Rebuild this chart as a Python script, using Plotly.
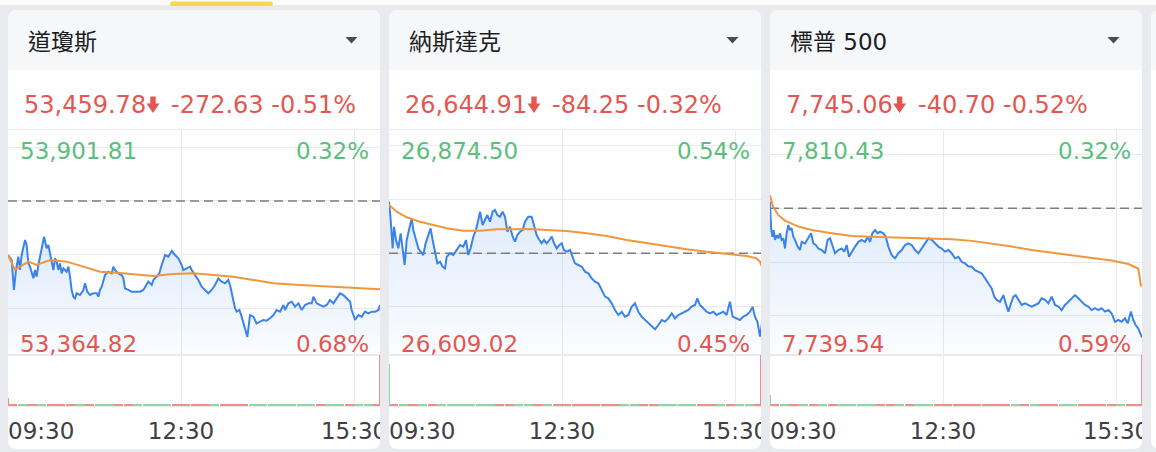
import numpy as np
import plotly.graph_objects as go

W, H = 1156, 452

# ---------------- data ----------------
names = ["道瓊斯", "納斯達克", "標普 500"]
last_price = [53459.78, 26644.91, 7745.06]
change = [-272.63, -84.25, -40.70]
change_pct = [-0.51, -0.32, -0.52]
range_high = [53901.81, 26874.50, 7810.43]
range_low = [53364.82, 26609.02, 7739.54]
high_pct = [0.32, 0.54, 0.32]
low_pct = [0.68, 0.45, 0.59]
time_ticks = [0, 180, 360]
time_labels = ["09:30", "12:30", "15:30"]

# minutes after 09:30 , index value
dji_line = [
    (0, 53603.5), (3.8, 53591.6), (6.2, 53520.0), (8.3, 53567.7), (10.7, 53599.5), (12.5, 53567.7),
    (14.2, 53603.5), (17.7, 53639.3), (19.4, 53627.4), (21.2, 53583.6), (22.9, 53575.7), (24.6, 53559.7),
    (26.4, 53547.8), (28.1, 53567.7), (29.8, 53551.8), (31.6, 53579.6), (33.3, 53599.5), (35.0, 53623.4),
    (37.5, 53647.2), (40.2, 53619.4), (42.0, 53627.4), (43.7, 53607.5), (45.4, 53583.6), (47.2, 53567.7),
    (48.9, 53595.5), (50.6, 53587.6), (52.4, 53567.7), (54.1, 53583.6), (55.8, 53559.7), (57.6, 53571.7),
    (61.0, 53563.7), (62.8, 53575.7), (64.5, 53551.8), (66.2, 53520.0), (68.0, 53504.1), (69.7, 53500.1),
    (71.4, 53512.0), (74.9, 53508.0), (78.4, 53520.0), (80.1, 53535.9), (82.5, 53516.0), (85.3, 53508.0),
    (88.8, 53512.0), (92.3, 53512.0), (94.0, 53504.1), (95.7, 53520.0), (97.5, 53527.9), (99.2, 53543.9),
    (100.9, 53555.8), (104.4, 53563.7), (107.9, 53559.7), (109.6, 53575.7), (111.3, 53567.7), (114.8, 53559.7),
    (118.3, 53555.8), (120.0, 53547.8), (121.7, 53524.0), (125.2, 53520.0), (128.7, 53516.0), (132.1, 53516.0),
    (137.3, 53516.0), (140.8, 53520.0), (144.3, 53531.9), (146.0, 53539.9), (149.5, 53531.9), (151.2, 53543.9),
    (154.7, 53551.8), (157.4, 53559.7), (159.9, 53579.6), (163.4, 53603.5), (166.8, 53599.5), (170.3, 53613.0),
    (173.8, 53603.5), (177.2, 53595.5), (180.7, 53579.6), (182.4, 53567.7), (185.9, 53571.7), (189.4, 53575.7),
    (191.1, 53567.7), (194.6, 53555.8), (198.0, 53543.9), (201.5, 53527.9), (205.0, 53520.0), (208.4, 53512.0),
    (211.9, 53520.0), (215.4, 53531.9), (218.8, 53547.8), (222.3, 53539.9), (225.8, 53535.9), (229.2, 53543.9),
    (231.0, 53531.9), (232.7, 53512.0), (234.4, 53496.1), (236.2, 53476.2), (237.9, 53468.3), (240.7, 53472.2),
    (243.1, 53456.3), (246.6, 53426.1), (249.0, 53407.8), (251.8, 53460.3), (255.2, 53456.3), (258.7, 53440.4),
    (262.2, 53444.4), (265.6, 53448.4), (269.1, 53446.8), (272.6, 53452.3), (276.1, 53460.3), (279.5, 53472.2),
    (283.0, 53468.3), (286.5, 53484.2), (288.2, 53472.2), (291.7, 53488.1), (295.2, 53492.1), (298.6, 53480.2),
    (302.1, 53488.1), (305.6, 53472.2), (309.0, 53484.2), (312.5, 53488.1), (316.0, 53488.1), (317.7, 53504.1),
    (321.2, 53488.1), (324.6, 53484.2), (328.1, 53480.2), (331.6, 53484.2), (335.0, 53496.1), (338.5, 53488.1),
    (342.0, 53500.1), (345.4, 53512.0), (348.9, 53508.0), (352.4, 53500.1), (355.9, 53492.1), (357.5, 53472.2),
    (359.3, 53460.3), (361.1, 53448.4), (364.5, 53460.3), (368.0, 53456.3), (371.5, 53468.3), (374.9, 53464.3),
    (378.4, 53468.3), (381.9, 53468.3), (385.4, 53472.2), (387.0, 53484.2), (390, 53459.78),
]
dji_avg = [
    (0, 53603.5), (7.3, 53567.7), (12.5, 53575.7), (21.2, 53587.6), (29.8, 53579.6), (43.7, 53591.6),
    (61.0, 53587.6), (78.4, 53575.7), (95.7, 53563.7), (113.1, 53561.3), (130.4, 53558.2), (151.2, 53553.4),
    (172.0, 53558.2), (192.8, 53559.7), (213.6, 53555.8), (234.4, 53551.8), (255.2, 53543.9), (276.1, 53535.9),
    (303.8, 53531.9), (338.5, 53527.9), (387.0, 53521.6),
]

ndx_line = [
    (0, 26789.9), (1.5, 26772.2), (3.8, 26734.9), (5.2, 26760.4), (7.3, 26744.7), (9.7, 26734.9),
    (12.1, 26752.6), (14.2, 26732.9), (16.3, 26715.2), (18.4, 26744.7), (21.2, 26760.4), (23.6, 26770.3),
    (25.3, 26756.5), (28.1, 26744.7), (30.5, 26734.9), (32.9, 26730.9), (35.7, 26727.0), (38.1, 26740.8),
    (40.9, 26750.6), (43.3, 26758.5), (45.4, 26744.7), (47.8, 26732.9), (50.3, 26717.2), (53.1, 26719.1),
    (55.8, 26713.2), (58.3, 26711.3), (60.0, 26725.0), (63.5, 26729.0), (66.9, 26727.0), (70.4, 26732.9),
    (73.8, 26738.8), (77.3, 26736.9), (80.1, 26744.7), (82.5, 26727.0), (84.9, 26734.9), (87.7, 26748.6),
    (90.5, 26756.5), (92.9, 26768.3), (94.7, 26778.1), (97.4, 26762.4), (99.8, 26768.3), (102.3, 26774.2),
    (105.1, 26766.3), (107.8, 26778.1), (110.3, 26780.1), (112.7, 26774.2), (115.4, 26772.2), (118.2, 26778.1),
    (120.7, 26772.2), (123.1, 26754.5), (125.9, 26760.4), (128.7, 26748.6), (131.1, 26742.7), (133.5, 26750.6),
    (136.3, 26754.5), (139.0, 26756.5), (141.5, 26766.3), (144.9, 26772.2), (148.4, 26772.2), (150.9, 26760.4),
    (153.6, 26750.6), (156.4, 26744.7), (158.8, 26740.8), (161.3, 26744.7), (164.0, 26740.8), (166.8, 26744.7),
    (169.3, 26748.6), (171.7, 26740.8), (174.5, 26734.9), (177.2, 26738.8), (179.7, 26740.8), (182.1, 26732.9),
    (184.9, 26730.9), (188.3, 26732.9), (191.1, 26725.0), (193.5, 26717.2), (197.0, 26715.2), (200.5, 26713.2),
    (203.9, 26707.4), (207.4, 26705.4), (210.9, 26699.5), (214.3, 26695.5), (217.8, 26693.6), (221.3, 26685.7),
    (224.7, 26677.9), (228.2, 26675.9), (231.7, 26670.0), (235.1, 26662.1), (238.6, 26656.2), (242.1, 26660.1),
    (245.5, 26654.3), (249.0, 26656.2), (252.5, 26666.1), (255.9, 26670.0), (259.4, 26660.1), (262.8, 26654.3),
    (266.3, 26650.3), (269.8, 26646.4), (273.3, 26642.5), (276.7, 26639.3), (280.2, 26644.4), (283.7, 26650.3),
    (287.1, 26648.4), (290.6, 26652.3), (294.1, 26658.2), (297.5, 26652.3), (301.0, 26656.2), (304.5, 26658.2),
    (307.9, 26660.1), (311.4, 26662.1), (314.9, 26666.1), (318.3, 26668.0), (320.7, 26675.9), (323.5, 26668.0),
    (327.0, 26664.1), (330.4, 26660.1), (333.9, 26658.2), (337.4, 26660.1), (340.8, 26656.2), (344.3, 26658.2),
    (347.8, 26660.1), (351.2, 26656.2), (354.7, 26672.0), (357.5, 26654.3), (361.6, 26652.3), (365.1, 26650.3),
    (368.6, 26654.3), (372.1, 26656.2), (375.5, 26660.1), (378.3, 26666.1), (380.7, 26654.3), (383.2, 26648.4),
    (386.0, 26630.7), (388.5, 26650.3), (390, 26644.91),
]
ndx_avg = [
    (0, 26786.0), (8.0, 26778.1), (18.4, 26771.5), (32.2, 26766.3), (46.1, 26762.4), (60.0, 26758.5),
    (77.3, 26755.7), (94.7, 26755.7), (112.0, 26757.3), (129.4, 26757.7), (146.7, 26757.7), (164.0, 26756.5),
    (184.9, 26755.3), (205.7, 26752.6), (226.5, 26749.4), (247.3, 26744.7), (268.1, 26740.8), (288.9, 26736.9),
    (309.7, 26733.7), (330.4, 26730.9), (351.2, 26728.2), (372.1, 26725.8), (382.5, 26723.1), (386.0, 26719.1),
    (388.5, 26711.3),
]

spx_line = [
    (0, 7787.8), (1.1, 7779.5), (2.5, 7776.8), (3.8, 7778.9), (5.2, 7775.8), (7.0, 7777.3),
    (8.7, 7776.3), (10.4, 7777.9), (12.1, 7775.8), (13.9, 7776.3), (15.6, 7773.1), (17.3, 7777.9),
    (19.1, 7780.5), (20.8, 7778.9), (22.5, 7779.5), (24.3, 7776.8), (26.0, 7775.8), (28.8, 7773.7),
    (31.2, 7772.6), (33.0, 7775.2), (36.4, 7774.7), (39.9, 7776.3), (42.7, 7777.9), (45.1, 7774.7),
    (47.6, 7774.2), (50.3, 7773.1), (53.8, 7772.6), (57.2, 7771.6), (60.0, 7775.8), (62.5, 7776.3),
    (64.9, 7774.2), (67.7, 7771.6), (71.1, 7772.6), (74.6, 7773.1), (77.4, 7772.1), (79.8, 7774.2),
    (82.2, 7770.5), (85.0, 7772.1), (88.5, 7773.7), (91.9, 7775.2), (95.4, 7775.8), (98.9, 7775.2),
    (101.7, 7776.8), (104.1, 7775.2), (106.5, 7777.9), (109.2, 7778.9), (112.0, 7777.9), (114.5, 7778.4),
    (117.9, 7777.9), (120.4, 7776.8), (123.1, 7773.7), (126.6, 7771.0), (130.1, 7770.0), (133.5, 7771.6),
    (137.0, 7772.6), (140.5, 7774.2), (144.0, 7774.7), (147.4, 7774.2), (150.9, 7772.6), (154.4, 7771.6),
    (157.8, 7773.1), (161.3, 7774.7), (164.8, 7776.3), (168.2, 7775.8), (171.7, 7774.7), (175.2, 7773.7),
    (178.6, 7773.1), (182.1, 7772.1), (185.6, 7772.6), (189.0, 7771.6), (192.5, 7770.0), (196.0, 7770.5),
    (199.4, 7768.9), (202.9, 7768.4), (206.4, 7767.4), (209.8, 7767.4), (213.3, 7766.3), (216.8, 7765.8),
    (220.2, 7765.3), (223.7, 7763.7), (227.2, 7762.1), (230.6, 7760.5), (233.4, 7757.9), (235.8, 7756.9),
    (239.3, 7756.3), (242.8, 7758.4), (245.2, 7755.8), (248.0, 7753.2), (250.7, 7755.8), (253.2, 7757.9),
    (255.6, 7758.4), (258.4, 7756.9), (261.8, 7755.3), (265.3, 7755.8), (268.8, 7755.3), (272.2, 7754.8),
    (275.7, 7755.3), (279.2, 7755.8), (282.6, 7757.4), (286.1, 7756.9), (289.6, 7755.8), (293.0, 7757.9),
    (296.5, 7755.3), (300.0, 7754.8), (303.4, 7753.7), (306.9, 7755.3), (310.4, 7756.3), (313.8, 7757.4),
    (317.3, 7758.4), (320.8, 7757.4), (324.2, 7756.3), (327.7, 7755.3), (331.2, 7754.8), (334.6, 7753.7),
    (338.1, 7754.3), (341.6, 7753.7), (345.0, 7754.3), (348.5, 7753.2), (352.0, 7753.7), (355.4, 7752.7),
    (358.9, 7750.0), (362.4, 7750.6), (365.8, 7750.0), (369.3, 7751.1), (372.1, 7749.5), (375.5, 7753.2),
    (377.9, 7750.6), (380.4, 7749.0), (383.1, 7747.9), (386.6, 7745.3), (390, 7745.06),
]
spx_avg = [
    (0, 7789.9), (3.2, 7786.3), (8.7, 7783.6), (15.6, 7781.9), (29.5, 7780.0), (43.4, 7778.9),
    (64.2, 7777.9), (85.0, 7777.0), (105.8, 7776.8), (126.6, 7776.6), (147.4, 7776.5), (168.2, 7776.3),
    (189.0, 7776.0), (209.8, 7775.5), (230.6, 7774.7), (251.4, 7773.7), (272.2, 7772.6), (293.0, 7771.8),
    (313.8, 7771.0), (334.6, 7770.3), (355.4, 7769.3), (372.8, 7768.2), (383.1, 7766.8), (386.0, 7761.1),
]

# volume: 10-minute buckets (centre times), opening and closing prints
vol_bucket_t = [5, 15, 25, 35, 45, 55, 65, 75, 85, 95, 105, 115, 125, 135, 145, 155, 165, 175, 185,
                195, 205, 215, 225, 235, 245, 255, 265, 275, 285, 295, 305, 315, 325, 335, 345, 355,
                365, 375, 385]
dji_vol = [4, 3, 3, 2, 2, 3, 2, 2, 2, 2, 2, 2, 2, 2, 2, 2, 2, 2, 2, 2, 2, 2, 3, 2, 3, 2, 2, 2, 2, 2,
           2, 2, 2, 3, 3, 3, 3, 4, 4]
ndx_vol = [4, 3, 3, 3, 2, 2, 2, 2, 2, 2, 2, 2, 2, 2, 2, 2, 2, 2, 2, 2, 2, 2, 3, 3, 3, 2, 2, 2, 2, 2,
           2, 2, 2, 2, 3, 3, 3, 4, 4]
spx_vol = [4, 3, 3, 2, 2, 2, 2, 2, 2, 2, 2, 2, 2, 2, 2, 2, 2, 2, 2, 2, 2, 2, 3, 3, 3, 2, 2, 2, 2, 2,
           2, 2, 2, 2, 3, 3, 3, 4, 4]
open_vol_t = [0.5, 0.5, 0.5]
open_vol = [16, 82, 22]
open_up = [False, True, True]
close_vol_t = [387.4, 387.4, 387.4]
close_vol = [100, 100, 100]

series = [
    dict(line=dji_line, avg=dji_avg, vol=dji_vol),
    dict(line=ndx_line, avg=ndx_avg, vol=ndx_vol),
    dict(line=spx_line, avg=spx_avg, vol=spx_vol),
]

# ---------------- style / layout constants ----------------
PAGE = "#e9eaee"
HEADER = "#f6f7f9"
CARD = "#ffffff"
GRID = "#e8eaee"
RED = "#e45750"
GREEN = "#5cbe7d"
VOL_RED = "#ef8f8a"
VOL_GREEN = "#8fd6a6"
BLUE = "#3b83ea"
ORANGE = "#f0963c"
TXT = "#1d1d1f"
TICK_TXT = "#3d4046"
NUM_FONT = "DejaVu Sans"
TITLE_FONT = "DejaVu Sans, Noto Sans CJK TC"
NUM_SIZE = 24
LABEL_SIZE = 23

CARD_LEFT = [8, 389, 770]
CARD_W = 372
CARD_TOP, HEAD_BOT, CARD_BOT = 10, 70, 449
PLOT_TOP, PRICE_BOT, VOL_BOT = 130, 355, 406
LAB_TOP, LAB_BOT = 414, 452
X_RANGE = [0, 387]
GRID_FRAC = 0.2387          # grid spacing as fraction of the price range
ARROW_DX = [138.7, 138.7, 123.3]
CHANGE_DX = [161, 161, 146]


def X(px):
    return px / W


def Y(py):
    return 1 - py / H


def rrect(x0, y0, x1, y1, r_top, r_bot):
    pts = [
        f"M {X(x0 + r_top)},{Y(y0)}",
        f"L {X(x1 - r_top)},{Y(y0)}",
        f"Q {X(x1)},{Y(y0)} {X(x1)},{Y(y0 + r_top)}",
        f"L {X(x1)},{Y(y1 - r_bot)}",
        f"Q {X(x1)},{Y(y1)} {X(x1 - r_bot)},{Y(y1)}",
        f"L {X(x0 + r_bot)},{Y(y1)}",
        f"Q {X(x0)},{Y(y1)} {X(x0)},{Y(y1 - r_bot)}",
        f"L {X(x0)},{Y(y0 + r_top)}",
        f"Q {X(x0)},{Y(y0)} {X(x0 + r_top)},{Y(y0)}",
        "Z",
    ]
    return " ".join(pts)


def poly(points):
    return "M " + " L ".join(f"{X(a)},{Y(b)}" for a, b in points) + " Z"


shapes = []
annotations = []

# page top strip and tab indicator
shapes.append(dict(type="rect", xref="paper", yref="paper", x0=0, x1=1, y0=Y(5), y1=1,
                   fillcolor="#fcfcfc", line=dict(width=0), layer="below"))
shapes.append(dict(type="path", xref="paper", yref="paper", path=rrect(170, 1.5, 273, 6, 2.2, 2.2),
                   fillcolor="#f6d94a", line=dict(width=0), layer="below"))

# cards (3 full + the edge of a fourth)
for L in CARD_LEFT + [1151]:
    shapes.append(dict(type="path", xref="paper", yref="paper",
                       path=rrect(L, CARD_TOP, L + CARD_W, CARD_BOT, 9, 9),
                       fillcolor=CARD, line=dict(width=0), layer="below"))
    shapes.append(dict(type="path", xref="paper", yref="paper",
                       path=rrect(L, CARD_TOP, L + CARD_W, HEAD_BOT, 9, 0),
                       fillcolor=HEADER, line=dict(width=0), layer="below"))

fig = go.Figure()
layout = dict(width=W, height=H, margin=dict(l=0, r=0, t=0, b=0),
              paper_bgcolor=PAGE, plot_bgcolor="rgba(0,0,0,0)", showlegend=False,
              hovermode=False)


def nm(letter, n):
    return letter + ("" if n == 1 else str(n))


def axkey(letter, n):
    return letter + "axis" + ("" if n == 1 else str(n))


for i, s in enumerate(series):
    L = CARD_LEFT[i]
    xm, xl = 2 * i + 1, 2 * i + 2
    yp, yv, yl = 3 * i + 1, 3 * i + 2, 3 * i + 3
    lo, hi = range_low[i], range_high[i]
    prev_close = last_price[i] - change[i]
    t, p = zip(*s["line"])
    ta, pa = zip(*s["avg"])
    t = np.array(t)
    p = np.array(p)

    xdom = [X(L), X(L + CARD_W)]
    layout[axkey("x", xm)] = dict(domain=xdom, range=X_RANGE, anchor=nm("y", yp),
                                  tickvals=[180, 360], showgrid=True, gridcolor=GRID, gridwidth=1,
                                  showticklabels=False, ticks="", zeroline=False,
                                  showline=True, mirror="all", linecolor=GRID, linewidth=1,
                                  fixedrange=True)
    layout[axkey("x", xl)] = dict(domain=xdom, range=X_RANGE, anchor=nm("y", yl), visible=False,
                                  fixedrange=True)
    step = (hi - lo) * GRID_FRAC
    gvals = [prev_close + k * step for k in range(-4, 5)
             if lo < prev_close + k * step < hi]
    layout[axkey("y", yp)] = dict(domain=[Y(PRICE_BOT), Y(PLOT_TOP)], range=[lo, hi],
                                  anchor=nm("x", xm), tickvals=gvals, showgrid=True,
                                  gridcolor=GRID, gridwidth=1, showticklabels=False, ticks="",
                                  zeroline=False, showline=False, fixedrange=True)
    vmax = max(close_vol[i], open_vol[i])
    layout[axkey("y", yv)] = dict(domain=[Y(VOL_BOT), Y(PRICE_BOT)], range=[0, vmax],
                                  anchor=nm("x", xm), showgrid=False, showticklabels=False,
                                  ticks="", zeroline=False, showline=False, fixedrange=True)
    layout[axkey("y", yl)] = dict(domain=[max(0.0, Y(LAB_BOT)), Y(LAB_TOP)], range=[0, 1],
                                  anchor=nm("x", xl), visible=False, fixedrange=True)

    xa, ya = nm("x", xm), nm("y", yp)
    # fill baseline at the bottom of the price axis
    fig.add_trace(go.Scatter(x=[t.min(), t.max()], y=[lo, lo], mode="lines",
                             line=dict(width=0, color="rgba(0,0,0,0)"),
                             xaxis=xa, yaxis=ya, hoverinfo="skip"))
    fig.add_trace(go.Scatter(x=t, y=p, mode="none", fill="tonexty",
                             fillgradient=dict(type="vertical", start=lo, stop=float(p.max()),
                                               colorscale=[[0, "rgba(59,131,234,0.02)"],
                                                           [1, "rgba(59,131,234,0.17)"]]),
                             xaxis=xa, yaxis=ya, hoverinfo="skip"))
    # previous close dashed line
    fig.add_trace(go.Scatter(x=X_RANGE, y=[prev_close, prev_close], mode="lines",
                             line=dict(color="#7d7d7d", width=1.5, dash="9px,5px"),
                             xaxis=xa, yaxis=ya, hoverinfo="skip"))
    fig.add_trace(go.Scatter(x=t, y=p, mode="lines", line=dict(color=BLUE, width=2),
                             xaxis=xa, yaxis=ya, hoverinfo="skip"))
    fig.add_trace(go.Scatter(x=ta, y=pa, mode="lines", line=dict(color=ORANGE, width=2),
                             xaxis=xa, yaxis=ya, hoverinfo="skip"))

    # volume bars
    vb = np.array(vol_bucket_t, dtype=float)
    up = np.interp(vb + 5, t, p) >= np.interp(vb - 5, t, p)
    vcols = [VOL_GREEN if u else VOL_RED for u in up]
    fig.add_trace(go.Bar(x=vb, y=s["vol"], width=9.6, marker=dict(color=vcols, line=dict(width=0)),
                         xaxis=xa, yaxis=nm("y", yv), hoverinfo="skip"))
    fig.add_trace(go.Bar(x=[open_vol_t[i], close_vol_t[i]], y=[open_vol[i], close_vol[i]], width=1.1,
                         marker=dict(color=[VOL_GREEN if open_up[i] else VOL_RED, VOL_RED],
                                     line=dict(width=0)),
                         xaxis=xa, yaxis=nm("y", yv), hoverinfo="skip"))

    # time labels (clipped by the card edge)
    fig.add_trace(go.Scatter(x=time_ticks, y=[0.5] * len(time_ticks), mode="text",
                             text=time_labels,
                             textposition=["middle right", "middle center", "middle center"],
                             textfont=dict(family=NUM_FONT, size=23, color=TICK_TXT),
                             cliponaxis=True, xaxis=nm("x", xl), yaxis=nm("y", yl),
                             hoverinfo="skip"))

    # dropdown triangle
    shapes.append(dict(type="path", xref="paper", yref="paper",
                       path=poly([(L + 337.5, 37), (L + 349.5, 37), (L + 343.5, 43.5)]),
                       fillcolor="#4b4b4d", line=dict(width=0), layer="above"))
    # down arrow after price
    ax0 = L + ARROW_DX[i]
    shapes.append(dict(type="path", xref="paper", yref="paper",
                       path=poly([(ax0 + 3.6, 96.5), (ax0 + 9.0, 96.5), (ax0 + 9.0, 103.5),
                                  (ax0 + 12.8, 103.5), (ax0 + 6.3, 113), (ax0 - 0.2, 103.5),
                                  (ax0 + 3.6, 103.5)]),
                       fillcolor=RED, line=dict(width=0), layer="above"))

    def ann(text, px, py, color, anchor="left", family=NUM_FONT, size=NUM_SIZE):
        annotations.append(dict(text=text, xref="paper", yref="paper", x=X(px), y=Y(py),
                                xanchor=anchor, yanchor="middle", showarrow=False,
                                font=dict(family=family, size=size, color=color)))

    ann(names[i], L + 18, 42.5, TXT, family=TITLE_FONT, size=23)
    ann(f"{last_price[i]:,.2f}", L + 14, 105, RED)
    ann(f"{change[i]:.2f} {change_pct[i]:.2f}%", L + CHANGE_DX[i], 105, RED)
    ann(f"{hi:,.2f}", L + 10, 150.5, GREEN, size=LABEL_SIZE)
    ann(f"{high_pct[i]:.2f}%", L + 363, 150.5, GREEN, anchor="right", size=LABEL_SIZE)
    ann(f"{lo:,.2f}", L + 10, 343.7, RED, size=LABEL_SIZE)
    ann(f"{low_pct[i]:.2f}%", L + 363, 343.7, RED, anchor="right", size=LABEL_SIZE)

layout["shapes"] = shapes
layout["annotations"] = annotations
layout["bargap"] = 0
fig.update_layout(**layout)
fig.write_html("out.html", config={"displayModeBar": False},
               post_script="document.body.style.margin='0';document.body.style.overflow='hidden';")
